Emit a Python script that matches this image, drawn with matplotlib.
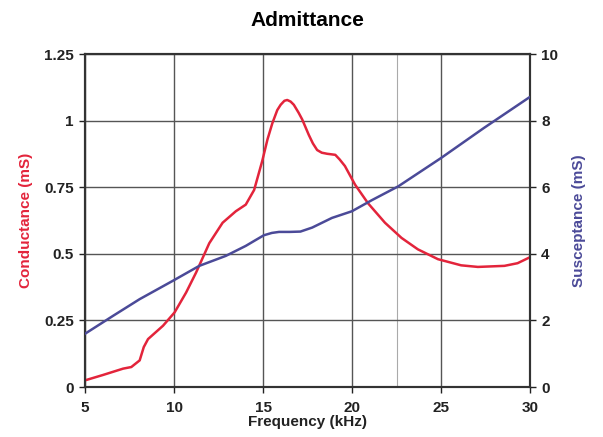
import matplotlib.pyplot as plt
import numpy as np

plt.rcParams['font.family'] = ['Liberation Sans', 'DejaVu Sans']

# conductance (left axis, mS)
g_freq = [5.0, 6.0, 7.14, 7.6, 8.07, 8.3, 8.54, 9.38, 10.03, 10.68, 11.24, 11.98, 12.73,
          13.47, 14.03, 14.5, 14.96, 15.25, 15.52, 15.8, 15.99, 16.2, 16.36, 16.55, 16.73,
          17.0, 17.2, 17.57, 17.8, 18.04, 18.3, 18.6, 19.06, 19.3, 19.6, 20.17, 20.9,
          21.85, 22.78, 23.7, 24.83, 26.13, 27.07, 28.56, 29.3, 29.95]
conductance = [0.025, 0.045, 0.069, 0.075, 0.10, 0.15, 0.18, 0.23, 0.28, 0.355, 0.43,
               0.54, 0.617, 0.66, 0.685, 0.74, 0.85, 0.93, 0.99, 1.04, 1.06, 1.075, 1.078,
               1.072, 1.06, 1.03, 1.005, 0.947, 0.915, 0.89, 0.88, 0.876, 0.872, 0.855,
               0.83, 0.76, 0.69, 0.617, 0.56, 0.517, 0.48, 0.457, 0.451, 0.455, 0.465, 0.486]

# susceptance (right axis, mS)
b_freq = [5.0, 6.58, 8.07, 9.93, 11.42, 12.91, 14.03, 14.6, 15.05, 15.5, 15.9, 16.5,
          17.1, 17.76, 18.87, 19.99, 21.1, 22.6, 25.0, 27.4, 29.95]
susceptance = [1.6, 2.14, 2.64, 3.19, 3.64, 3.94, 4.24, 4.42, 4.56, 4.63, 4.66, 4.66,
               4.67, 4.79, 5.08, 5.28, 5.61, 6.03, 6.88, 7.78, 8.70]

x_ticks = [5, 10, 15, 20, 25, 30]
g_ticks = [0, 0.25, 0.5, 0.75, 1, 1.25]
g_labels = ['0', '0.25', '0.5', '0.75', '1', '1.25']
b_ticks = [0, 2, 4, 6, 8, 10]

red = '#e3243b'
blue = '#4b4a98'
frame = '#333333'

fig = plt.figure(figsize=(6.03, 4.37), dpi=100)
ax = fig.add_axes([0.141, 0.1144, 0.738, 0.7616])
ax2 = ax.twinx()

ax.plot(g_freq, conductance, color=red, lw=1.8, zorder=3, solid_joinstyle='round')
ax2.plot(b_freq, susceptance, color=blue, lw=1.8, zorder=3, solid_joinstyle='round')

ax.set_xlim(5, 30)
ax.set_ylim(0, 1.25)
ax2.set_ylim(0, 10)
ax.set_xticks(x_ticks)
ax.set_yticks(g_ticks)
ax.set_yticklabels(g_labels)
ax2.set_yticks(b_ticks)

ax.grid(True, color='#555555', lw=1.0)
ax.axvline(22.5, color='#aaaaaa', lw=0.8, zorder=1)

for a in (ax, ax2):
    for s in a.spines.values():
        s.set_color(frame)
        s.set_linewidth(1.5)
    a.tick_params(colors='#222222', labelsize=11, length=4, width=1, pad=4)
    for lbl in a.get_xticklabels() + a.get_yticklabels():
        lbl.set_fontweight('bold')

ax.tick_params(axis='x', pad=6)
ax.set_xlabel('Frequency (kHz)', fontsize=11, fontweight='bold', color='#222222', labelpad=0)
ax.set_ylabel('Conductance (mS)', fontsize=11, fontweight='bold', color=red, labelpad=8)
ax2.set_ylabel('Susceptance (mS)', fontsize=11, fontweight='bold', color=blue, labelpad=10)
ax.set_title('Admittance', fontsize=15, fontweight='bold', pad=20)

fig.savefig('out.png', dpi=100)
